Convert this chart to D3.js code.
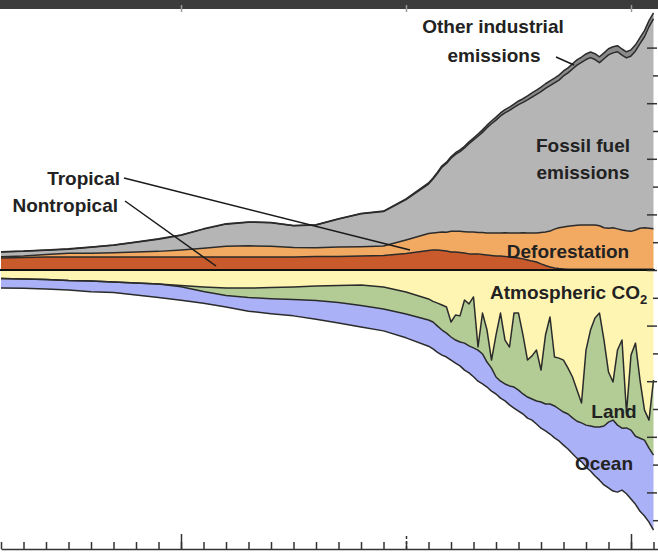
<!DOCTYPE html>
<html>
<head>
<meta charset="utf-8">
<script src="https://cdn.jsdelivr.net/npm/d3@7"></script>
<style>
body{margin:0;background:#fff;}
svg{display:block;}
.lbl{font-family:"Liberation Sans",Arial,sans-serif;font-weight:bold;font-size:19px;fill:#222;}
.edge{fill:none;stroke:#2b2b2b;stroke-width:1.5;stroke-linejoin:round;}
.axis path,.axis line{stroke:#333;stroke-width:1.5;}
.lead{stroke:#1a1a1a;stroke-width:1.5;}
</style>
</head>
<body>
<div class="chart"></div>
<script>
// years: 5-yearly to 1955, then annual
var years = [1860,1865,1870,1875,1880,1885,1890,1895,1900,1905,1910,1915,1920,1925,1930,1935,1940,1945,1950,1955,
  1956,1957,1958,1959,1960,1961,1962,1963,1964,1965,
  1966,1967,1968,1969,1970,1971,1972,1973,1974,1975,
  1976,1977,1978,1979,1980,1981,1982,1983,1984,1985,
  1986,1987,1988,1989,1990,1991,1992,1993,1994,1995,
  1996,1997,1998,1999,2000,2001,2002,2003,2004,2005];

// sources (GtC/yr), stacked upward from zero
var nontropical = [0.43,0.45,0.47,0.47,0.47,0.47,0.47,0.47,0.47,0.47,0.47,0.47,0.47,0.47,0.49,0.49,0.50,0.52,0.59,0.70,
  0.72,0.72,0.70,0.68,0.65,0.65,0.63,0.61,0.58,0.58,
  0.58,0.56,0.54,0.52,0.50,0.50,0.49,0.47,0.45,0.43,
  0.40,0.36,0.32,0.29,0.22,0.16,0.11,0.07,0.05,0.04,
  0.03,0.03,0.03,0.03,0.03,0.03,0.03,0.03,0.03,0.03,
  0.03,0.03,0.03,0.03,0.03,0.03,0.03,0.03,0.03,0.03];
var tropical = [0.05,0.05,0.09,0.13,0.13,0.15,0.18,0.20,0.25,0.31,0.38,0.40,0.38,0.34,0.31,0.34,0.34,0.34,0.49,0.61,
  0.61,0.63,0.67,0.68,0.74,0.74,0.76,0.77,0.79,0.79,
  0.77,0.79,0.79,0.81,0.83,0.83,0.85,0.86,0.88,0.90,
  0.94,0.97,1.01,1.04,1.13,1.21,1.29,1.40,1.47,1.51,
  1.54,1.56,1.58,1.59,1.59,1.59,1.59,1.56,1.49,1.47,
  1.49,1.45,1.41,1.38,1.36,1.41,1.47,1.49,1.47,1.45];
var fossil = [0.17,0.17,0.15,0.15,0.22,0.27,0.35,0.44,0.53,0.69,0.80,0.85,0.85,0.78,0.82,1.00,1.18,1.24,1.45,1.78,
  1.94,2.13,2.33,2.47,2.63,2.77,2.87,3.01,3.17,3.31,
  3.46,3.60,3.79,3.93,4.06,4.21,4.31,4.41,4.52,4.62,
  4.69,4.79,4.89,4.99,5.07,5.16,5.23,5.26,5.31,5.43,
  5.52,5.64,5.76,5.85,5.95,6.02,5.95,5.87,6.08,6.24,
  6.29,6.37,6.29,6.22,6.31,6.44,6.64,6.87,7.25,7.55];
var other = [0.01,0.01,0.01,0.01,0.01,0.01,0.01,0.01,0.01,0.01,0.01,0.01,0.01,0.01,0.01,0.01,0.01,0.02,0.03,0.04,
  0.04,0.04,0.05,0.05,0.05,0.06,0.06,0.06,0.07,0.07,
  0.08,0.09,0.09,0.10,0.11,0.11,0.12,0.12,0.12,0.13,
  0.13,0.14,0.15,0.15,0.16,0.17,0.17,0.17,0.18,0.18,
  0.18,0.19,0.19,0.19,0.20,0.20,0.21,0.21,0.21,0.22,
  0.22,0.22,0.22,0.22,0.22,0.22,0.22,0.22,0.22,0.22];

// sinks (GtC/yr), stacked downward from zero
var atmosphere = [0.31,0.32,0.34,0.38,0.40,0.43,0.47,0.50,0.56,0.61,0.65,0.65,0.63,0.61,0.58,0.56,0.54,0.61,0.79,1.04,
  1.13,1.19,1.26,1.33,1.87,1.62,1.65,1.08,1.22,0.97,
  2.77,1.55,2.16,3.24,2.34,1.55,2.52,2.77,1.55,1.55,
  2.34,3.24,3.09,2.88,3.60,2.34,1.69,3.13,3.17,3.24,
  3.53,3.85,4.32,4.78,2.88,2.16,1.73,1.55,2.52,3.67,
  4.03,2.88,2.52,5.14,3.06,2.63,3.96,5.04,5.40,3.96];
var land = [0,0,0,0,0,0,0,0,0.04,0.16,0.27,0.34,0.40,0.45,0.52,0.61,0.74,0.79,0.79,0.76,
  0.74,0.83,0.90,0.94,0.54,0.90,0.94,1.55,1.51,1.83,
  0.11,1.47,1.15,0.29,1.51,2.45,1.58,1.40,2.66,2.77,
  2.12,1.33,1.55,1.83,1.15,2.48,3.13,1.76,1.83,1.87,
  1.65,1.47,1.12,0.72,2.70,3.45,3.92,4.10,3.09,1.80,
  1.37,2.70,3.17,0.54,2.70,3.35,2.09,1.08,1.01,2.70];
var ocean = [0.34,0.34,0.34,0.34,0.38,0.38,0.43,0.49,0.49,0.43,0.41,0.49,0.54,0.59,0.67,0.74,0.77,0.79,0.86,0.94,
  0.97,0.94,0.90,0.86,0.83,0.83,0.86,0.97,0.97,1.04,
  1.12,1.08,0.90,0.83,0.61,0.61,0.61,0.68,0.76,0.76,
  0.72,0.76,0.76,0.83,0.94,0.97,1.08,1.15,1.15,1.19,
  1.26,1.29,1.33,1.40,1.51,1.62,1.76,1.91,2.12,2.37,
  2.55,2.41,2.23,2.37,2.48,2.45,2.63,2.73,2.66,2.70];

var sourceKeys = ['nontropical','tropical','fossil','other'];
var sinkKeys = ['atmosphere','land','ocean'];
var majorYears = [1900, 1950, 2000];

var colors = {
  nontropical:'#c95a2b', tropical:'#f2aa63', fossil:'#b5b5b5', other:'#8a8a8a',
  atmosphere:'#fff5b3', land:'#b3cc96', ocean:'#aab1f7'
};

var ww = 658, hh = 552;
var rows = years.map(function(yr, i){
  return {year:yr, nontropical:nontropical[i], tropical:tropical[i], fossil:fossil[i], other:other[i],
    atmosphere:atmosphere[i], land:land[i], ocean:ocean[i]};
});

var x = d3.scaleLinear().domain([1860, 2006]).range([1, 658])
  , y = d3.scaleLinear().domain([-10, 10]).range([548, -8]);

var svg = d3.select('.chart').append('svg').attr('width', ww).attr('height', hh);
svg.append('rect').attr('width', ww).attr('height', hh).attr('fill', '#fff');
svg.append('defs').append('clipPath').attr('id', 'plot')
  .append('rect').attr('x', 0).attr('y', 9).attr('width', 655).attr('height', 540);

var plot = svg.append('g').attr('clip-path', 'url(#plot)');

var srcStack = d3.stack().keys(sourceKeys)(rows)
  , sinkStack = d3.stack().keys(sinkKeys)(rows);

var upArea = d3.area().x(function(d){ return x(d.data.year); })
    .y0(function(d){ return y(d[0]); }).y1(function(d){ return y(d[1]); })
  , downArea = d3.area().x(function(d){ return x(d.data.year); })
    .y0(function(d){ return y(-d[0]); }).y1(function(d){ return y(-d[1]); })
  , upEdge = d3.line().x(function(d){ return x(d.data.year); }).y(function(d){ return y(d[1]); })
  , downEdge = d3.line().x(function(d){ return x(d.data.year); }).y(function(d){ return y(-d[1]); });

plot.selectAll('.src').data(srcStack).enter().append('path')
  .attr('class', 'src').attr('fill', function(d){ return colors[d.key]; }).attr('d', upArea);
plot.selectAll('.sink').data(sinkStack).enter().append('path')
  .attr('class', 'sink').attr('fill', function(d){ return colors[d.key]; }).attr('d', downArea);

plot.selectAll('.srcEdge').data(srcStack).enter().append('path')
  .attr('class', 'edge').attr('d', upEdge);
plot.selectAll('.sinkEdge').data(sinkStack).enter().append('path')
  .attr('class', 'edge').attr('d', downEdge);

// zero line
plot.append('line').attr('x1', 0).attr('x2', 655).attr('y1', y(0)).attr('y2', y(0))
  .attr('stroke', '#111').attr('stroke-width', 2);

// dark strip at the top
svg.append('rect').attr('width', ww).attr('height', 9).attr('fill', '#3b3b3b');
svg.append('g').attr('transform', 'translate(0,5)')
  .call(d3.axisBottom(x).tickValues(majorYears).tickSize(7).tickFormat(''))
  .call(function(g){ g.select('.domain').remove(); g.selectAll('line').attr('stroke', '#999').attr('stroke-width', 1.5); });

// bottom axis, ticks pointing up
svg.append('g').attr('class', 'axis').attr('transform', 'translate(0,549)')
  .call(d3.axisTop(x).tickValues(d3.range(1860, 2006, 5)).tickSize(7).tickSizeOuter(0).tickFormat(''));
svg.append('g').attr('class', 'axis').attr('transform', 'translate(0,549)')
  .call(d3.axisTop(x).tickValues(majorYears).tickSize(15).tickFormat(''))
  .call(function(g){ g.select('.domain').remove(); })
  .selectAll('line').filter(function(d){ return d === 1950; }).attr('stroke-dasharray', '3,2');

// right axis, ticks pointing in
svg.append('g').attr('class', 'axis').attr('transform', 'translate(657,0)')
  .call(d3.axisLeft(y).tickValues(d3.range(-8, 9, 2)).tickSize(10).tickFormat(''))
  .call(function(g){ g.select('.domain').remove(); });
svg.append('g').attr('class', 'axis').attr('transform', 'translate(658,0)')
  .call(d3.axisLeft(y).tickValues(d3.range(-9, 8, 2)).tickSize(5).tickFormat(''))
  .call(function(g){ g.select('.domain').remove(); });

// leader lines
var leads = [[124,178,410,250],[125,201,216,266],[556,57,574,65]];
svg.selectAll('.lead').data(leads).enter().append('line').attr('class', 'lead')
  .attr('x1', function(d){ return d[0]; }).attr('y1', function(d){ return d[1]; })
  .attr('x2', function(d){ return d[2]; }).attr('y2', function(d){ return d[3]; });

// labels
var txt = function(s, px, py, anchor){
  return svg.append('text').attr('class', 'lbl').attr('x', px).attr('y', py)
    .attr('text-anchor', anchor || 'middle').text(s);
};
txt('Other industrial', 493, 33);
txt('emissions', 494, 62);
txt('Fossil fuel', 583, 152);
txt('emissions', 583, 179);
txt('Deforestation', 568, 258);
txt('Tropical', 120, 185, 'end');
txt('Nontropical', 118, 212, 'end');
var co2 = txt('Atmospheric CO', 490, 299, 'start');
co2.append('tspan').attr('dy', 5).style('font-size', '13px').text('2');
txt('Land', 614, 418);
txt('Ocean', 604, 470);
</script>
</body>
</html>
